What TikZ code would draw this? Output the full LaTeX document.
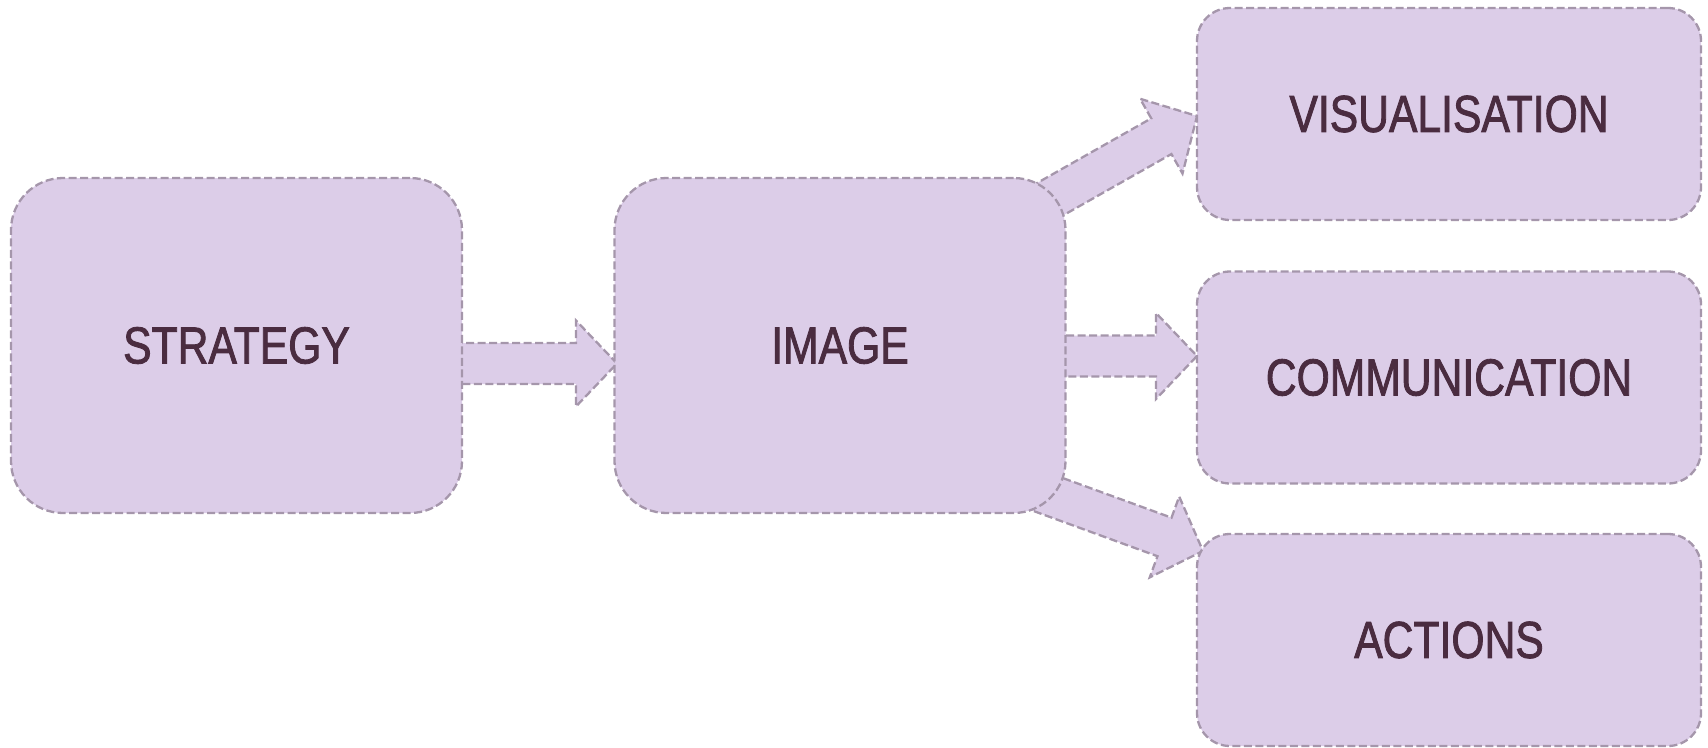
\documentclass[tikz,border=0pt]{standalone}
\usepackage{fontspec}
\newfontfamily\lblfont[FakeStretch=0.82,FakeBold=1.6]{Liberation Sans}
\usetikzlibrary{calc,backgrounds}
\definecolor{boxfill}{HTML}{DCCDE8}
\definecolor{boxline}{HTML}{A596AB}
\definecolor{txt}{HTML}{4A2C40}
\tikzset{
  dline/.style={draw=boxline, line width=2.3pt, dash pattern=on 8pt off 3.5pt},
  bigbox/.style={dline, fill=boxfill, rounded corners=52pt, inner sep=0pt,
    minimum width=451pt, minimum height=335pt, text=txt,
    font=\lblfont\fontsize{52}{52}\selectfont},
  smallbox/.style={bigbox, rounded corners=33pt, minimum width=504pt, minimum height=212pt},
  blockarrow/.style={dline, fill=boxfill, line join=miter}
}
\newcommand{\blockarr}[2]{%
  \path[blockarrow]
    ($(#1)!20.5pt!90:(#2)$) --
    ($($(#2)!41pt!(#1)$)!20.5pt!90:(#2)$) --
    ($($(#2)!41pt!(#1)$)!43pt!90:(#2)$) --
    (#2) --
    ($($(#2)!41pt!(#1)$)!43pt!-90:(#2)$) --
    ($($(#2)!41pt!(#1)$)!20.5pt!-90:(#2)$) --
    ($(#1)!20.5pt!-90:(#2)$) -- cycle;}
\begin{document}
\begin{tikzpicture}[x=1pt,y=-1pt]
\useasboundingbox (0,0) rectangle (1708,747);
\node[bigbox] (strategy) at (236.5,345.5) {STRATEGY};
\node[bigbox] (image) at (840,345.5) {IMAGE};
\node[smallbox] (vis) at (1449,114) {VISUALISATION};
\node[smallbox] (comm) at (1449,377.5) {COMMUNICATION};
\node[smallbox] (act) at (1449,640) {ACTIONS};
\coordinate (s1) at (420,363.5);
\coordinate (t1) at (617,363.5);
\coordinate (s2) at (1020,356);
\coordinate (t2) at (1197,356);
\coordinate (s3) at (971,244);
\coordinate (t3) at (1197,116);
\coordinate (s4) at (959,462);
\coordinate (t4) at (1203,551);
\begin{scope}[on background layer]
\blockarr{s1}{t1}
\blockarr{s2}{t2}
\blockarr{s3}{t3}
\blockarr{s4}{t4}
\end{scope}
\end{tikzpicture}
\end{document}
